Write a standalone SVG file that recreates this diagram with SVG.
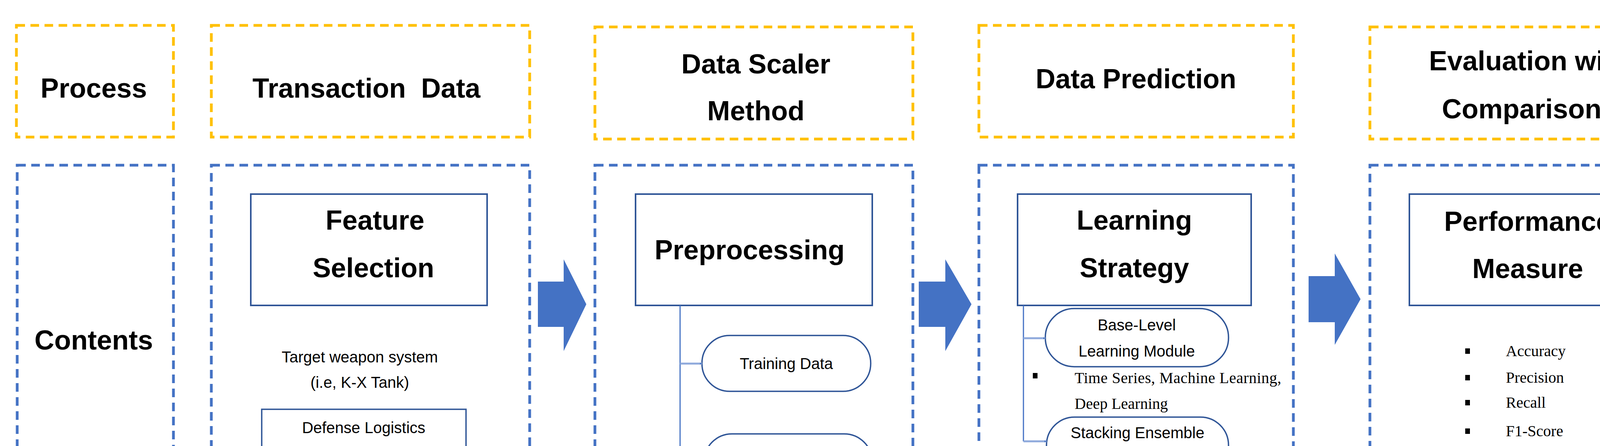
<svg xmlns="http://www.w3.org/2000/svg" width="4364" height="1142" viewBox="0 0 4364 1142">
<style>
.y{fill:none;stroke:#FFC000;stroke-width:7;stroke-dasharray:22 14}
.b{fill:none;stroke:#4472C4;stroke-width:7;stroke-dasharray:22 14}
.box{fill:#fff;stroke:#2F5597;stroke-width:4}
.pill{fill:#fff;stroke:#2F5597;stroke-width:3.5}
.h{font-family:"Liberation Sans",Arial,sans-serif;font-weight:bold;font-size:70px;text-anchor:middle;fill:#000}
.s{font-family:"Liberation Sans",Arial,sans-serif;font-size:40px;text-anchor:middle;fill:#000}
.t{font-family:"Liberation Serif","Times New Roman",serif;font-size:40px;fill:#000}
.arr{fill:#4472C4}
.ln{fill:none;stroke:#4472C4;stroke-width:3}
.st{fill:none;stroke:#8FAADC;stroke-width:5}
</style>
<defs>
<marker id="m" viewBox="0 0 10 10" refX="10" refY="5" markerWidth="5" markerHeight="5" orient="auto" markerUnits="userSpaceOnUse" >
<path d="M0,0L10,5L0,10z" fill="#4472C4"/>
</marker>
</defs>
<g id="process"><rect class="y" x="42" y="65" width="402" height="286"/><text class="h" x="240" y="250">Process</text></g>
<g id="contents"><rect class="b" x="44" y="423" width="400" height="1024"/><text class="h" x="240" y="895">Contents</text></g>
<g id="transaction"><rect class="y" x="541" y="65" width="815" height="286"/><text class="h" x="938" y="250" xml:space="preserve">Transaction  Data</text></g>
<g id="col1"><rect class="b" x="541" y="423" width="815" height="1024"/></g>
<g id="feature"><rect class="box" x="642" y="497" width="605" height="285"/><text class="h" x="960" y="588">Feature</text><text class="h" x="956" y="710">Selection</text></g>
<g id="target"><text class="s" x="921" y="928">Target weapon system</text><text class="s" x="921" y="993">(i.e, K-X Tank)</text></g>
<g id="deliis"><path class="pill" d="M670,1048H1193V1279C1080,1279 1000,1300 930,1318C870,1333 760,1333 670,1313Z"/>
<text class="s" x="931" y="1109">Defense Logistics</text><text class="s" x="931" y="1173">Integrated Information</text><text class="s" x="931" y="1245">System(DELIIS)</text></g>
<g id="scaler"><rect class="y" x="1523" y="69" width="814" height="287"/><text class="h" x="1935" y="188">Data Scaler</text><text class="h" x="1935" y="308">Method</text></g>
<g id="col2"><rect class="b" x="1523" y="423" width="814" height="1024"/></g>
<g id="preproc"><rect class="box" x="1627" y="497" width="606" height="285"/><text class="h" x="1919" y="664">Preprocessing</text></g>
<g id="training"><rect class="pill" x="1797" y="859" width="432" height="143" rx="71"/><text class="s" x="2013" y="945">Training Data</text></g>
<g id="testing"><rect class="pill" x="1802" y="1111" width="431" height="144" rx="72"/><text class="s" x="2017" y="1197">Testing Data</text></g>
<g id="prediction"><rect class="y" x="2506" y="65" width="805" height="286"/><text class="h" x="2908" y="226">Data Prediction</text></g>
<g id="col3"><rect class="b" x="2506" y="423" width="805" height="1024"/></g>
<g id="strategy"><rect class="box" x="2605" y="497" width="598" height="285"/><text class="h" x="2904" y="588">Learning</text><text class="h" x="2904" y="710">Strategy</text></g>
<g id="base"><rect class="pill" x="2676" y="790" width="469" height="149" rx="74"/><text class="s" x="2910" y="846">Base-Level</text><text class="s" x="2910" y="913">Learning Module</text></g>
<g id="basetext"><rect x="2644" y="955" width="12" height="14"/><text class="t" x="2751" y="981" textLength="529">Time Series,  Machine Learning,</text><text class="t" x="2751" y="1047">Deep Learning</text></g>
<g id="stack"><rect class="pill" x="2679" y="1068" width="466" height="144" rx="72"/><text class="s" x="2912" y="1122">Stacking Ensemble</text><text class="s" x="2912" y="1189">Learning Module</text></g>
<g id="stacktext"><rect x="2644" y="1245" width="12" height="14"/><rect x="2644" y="1311" width="12" height="14"/>
<text class="t" x="2745" y="1268" textLength="557">LR(ML), LR(DL), LR(ML+DL)</text><text class="t" x="2745" y="1335">SVM(ML), SVM(DL),</text><text class="t" x="2745" y="1398">SVM(ML+DL)</text></g>
<g id="evaluation"><rect class="y" x="3507" y="69" width="816" height="287"/><text class="h" x="3915" y="180">Evaluation with</text><text class="h" x="3915" y="303">Comparisons</text></g>
<g id="col4"><rect class="b" x="3507" y="423" width="816" height="1024"/></g>
<g id="perf"><rect class="box" x="3608" y="497" width="606" height="285"/><text class="h" x="3911" y="591">Performance</text><text class="h" x="3911" y="712">Measure</text></g>
<g id="metrics">
<rect x="3751" y="892" width="12" height="14"/><rect x="3751" y="960" width="12" height="14"/><rect x="3751" y="1024" width="12" height="14"/><rect x="3751" y="1097" width="12" height="14"/><rect x="3751" y="1162" width="12" height="14"/><rect x="3751" y="1234" width="12" height="14"/>
<text class="t" x="3855" y="912">Accuracy</text><text class="t" x="3855" y="980">Precision</text><text class="t" x="3855" y="1044">Recall</text><text class="t" x="3855" y="1117">F1-Score</text><text class="t" x="3855" y="1182">AUROC</text><text class="t" x="3855" y="1254">AUPR</text>
</g>
<g id="connectors">
<path class="arr" d="M1377,721H1443V664L1501,779L1443,899V837H1377Z"/>
<path class="arr" d="M2352,721H2420V664L2487,779L2420,899V837H2352Z"/>
<path class="arr" d="M3350,707H3417V649L3483,766L3417,883V825H3350Z"/>
<path class="ln" d="M1741,782V1196"/>
<path class="st" d="M1741,931H1797" marker-end="url(#m)"/>
<path class="st" d="M1741,1196H1802" marker-end="url(#m)"/>
<path class="ln" d="M2620,782V1130"/>
<path class="st" d="M2620,866H2676" marker-end="url(#m)"/>
<path class="st" d="M2620,1130H2679" marker-end="url(#m)"/>
</g>
</svg>
